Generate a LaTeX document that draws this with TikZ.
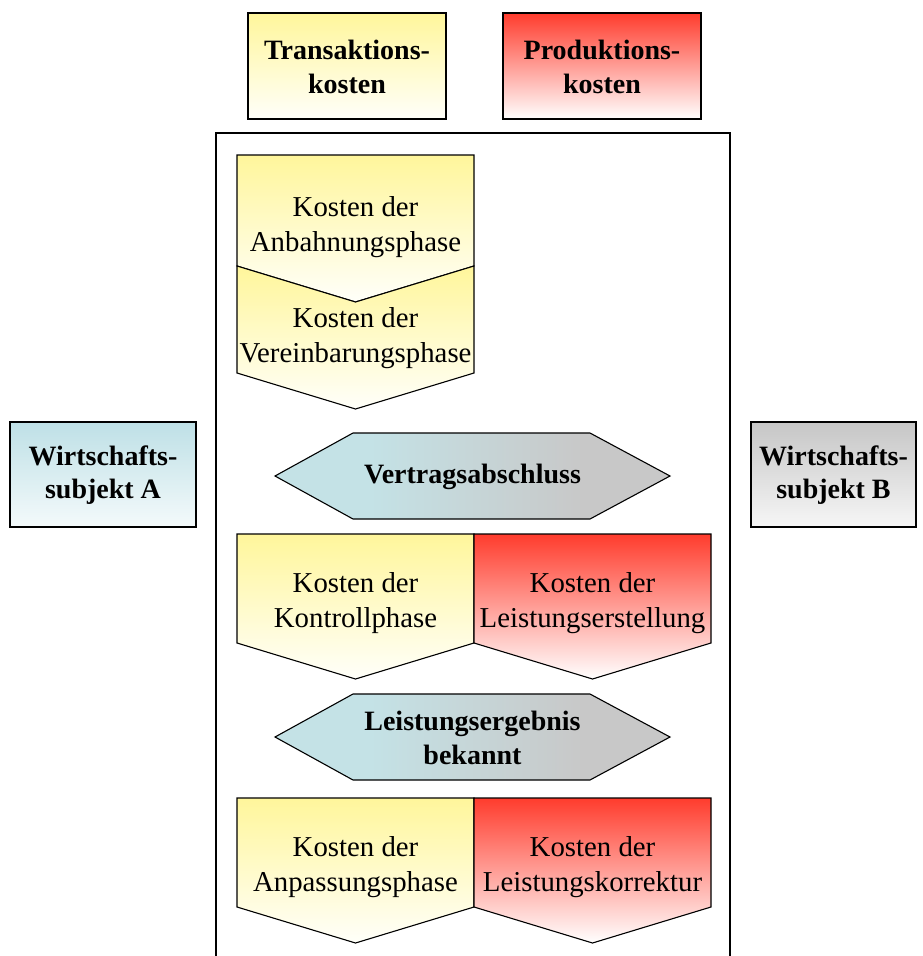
\documentclass[tikz,border=0pt]{standalone}
\usepackage{fontspec}
\setmainfont{Liberation Serif}

% colours of the cost groups and the two parties
\definecolor{transtop}{RGB}{255,246,155}
\definecolor{transbot}{RGB}{255,255,250}
\definecolor{prodtop}{RGB}{255,60,45}
\definecolor{prodbot}{RGB}{255,255,255}
\definecolor{partyA}{RGB}{190,224,230}
\definecolor{partyAbot}{RGB}{244,250,251}
\definecolor{partyB}{RGB}{198,198,198}
\definecolor{partyBbot}{RGB}{246,246,246}
\definecolor{hexcyan}{RGB}{196,226,230}
\definecolor{hexgray}{RGB}{200,200,200}

% milestone fill: cyan on the left, grey on the right
\pgfdeclareverticalshading{milestone}{100bp}{%
  color(0bp)=(hexgray); color(36bp)=(hexgray);
  color(63bp)=(hexcyan); color(100bp)=(hexcyan)}

\tikzset{
  outline/.style={draw=black, line width=1.1pt, line join=miter},
  transfill/.style={outline, top color=transtop, bottom color=transbot},
  prodfill/.style={outline, top color=prodtop, bottom color=prodbot},
  afill/.style={outline, top color=partyA, bottom color=partyAbot},
  bfill/.style={outline, top color=partyB, bottom color=partyBbot},
  hexfill/.style={outline, shading=milestone, shading angle=90},
  lbl/.style={align=center, inner sep=0pt, font=\fontsize{28.8}{35}\selectfont},
  blbl/.style={align=center, inner sep=0pt, font=\fontsize{28}{33.5}\selectfont\bfseries},
}

\begin{document}
\begin{tikzpicture}[x=1pt, y=-1pt]
\useasboundingbox (0,0) rectangle (923,956);

% legend boxes
\path[transfill] (248,13) rectangle (446,119);
\node[blbl] (trans) at (347,67) {Transaktions-\\kosten};
\path[prodfill] (503,13) rectangle (701,119);
\node[blbl] (prod) at (602,67) {Produktions-\\kosten};

% the two parties
\path[afill] (10,422) rectangle (196,527);
\node[blbl] (subjA) at (103,475) {Wirtschafts-\\subjekt A};
\path[bfill] (751,422) rectangle (916,527);
\node[blbl] (subjB) at (833.5,475) {Wirtschafts-\\subjekt B};

% frame of the transaction process (open at the bottom)
\draw[line width=1.1pt] (216,960) -- (216,133) -- (730,133) -- (730,960);

% phases before the contract
\path[transfill] (237,155) -- (474,155) -- (474,266) -- (355.5,302) -- (237,266) -- cycle;
\node[lbl] (anb) at (355.5,227) {Kosten der\\Anbahnungsphase};
\path[transfill] (237,266) -- (355.5,302) -- (474,266) -- (474,373) -- (355.5,409) -- (237,373) -- cycle;
\node[lbl] (ver) at (355.5,338) {Kosten der\\Vereinbarungsphase};

% contract conclusion
\path[hexfill] (275,476) -- (353,433) -- (590,433) -- (670,476) -- (590,519) -- (353,519) -- cycle;
\node[blbl] (vertrag) at (472.5,477) {Vertragsabschluss};

% control phase and production
\path[transfill] (237,534) -- (474,534) -- (474,643) -- (355.5,679) -- (237,643) -- cycle;
\node[lbl] (kontr) at (355.5,603) {Kosten der\\Kontrollphase};
\path[prodfill] (474,534) -- (711,534) -- (711,643) -- (592.5,679) -- (474,643) -- cycle;
\node[lbl] (erst) at (592.5,603) {Kosten der\\Leistungserstellung};

% result known
\path[hexfill] (275,737) -- (353,694) -- (590,694) -- (670,737) -- (590,780) -- (353,780) -- cycle;
\node[blbl] (ergeb) at (472.5,738) {Leistungsergebnis\\bekannt};

% adjustment and correction
\path[transfill] (237,798) -- (474,798) -- (474,907) -- (355.5,943) -- (237,907) -- cycle;
\node[lbl] (anp) at (355.5,867) {Kosten der\\Anpassungsphase};
\path[prodfill] (474,798) -- (711,798) -- (711,907) -- (592.5,943) -- (474,907) -- cycle;
\node[lbl] (korr) at (592.5,867) {Kosten der\\Leistungskorrektur};
\end{tikzpicture}
\end{document}
